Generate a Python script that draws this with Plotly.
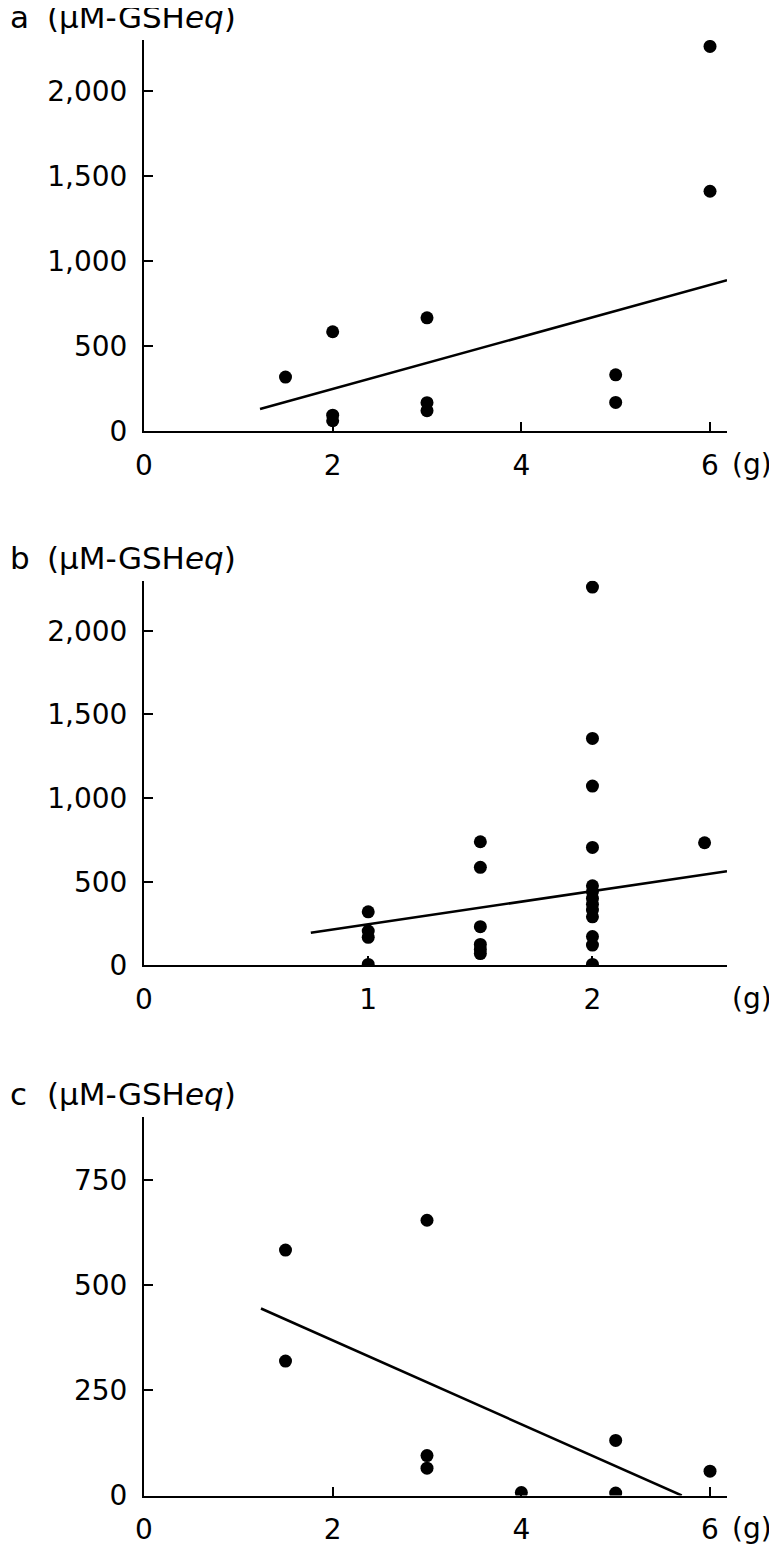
import plotly.graph_objects as go

# Panel a
a_x = [1.5, 2, 2, 2, 3, 3, 3, 5, 5, 6, 6]
a_y = [319, 585, 95, 62, 667, 168, 121, 332, 170, 2262, 1411]
a_fit_x = [1.23, 6.18]
a_fit_y = [131, 888]

# Panel b
b_x = [1, 1, 1, 1,
       1.5, 1.5, 1.5, 1.5, 1.5, 1.5,
       2, 2, 2, 2, 2, 2, 2, 2, 2, 2, 2, 2, 2,
       2.5]
b_y = [320, 205, 167, 5,
       739, 586, 231, 125, 95, 70,
       2262, 1357, 1072, 705, 475, 440, 400, 365, 330, 290, 172, 121, 5,
       733]
b_fit_x = [0.744, 2.6]
b_fit_y = [195, 562]

# Panel c
c_x = [1.5, 1.5, 3, 3, 3, 4, 5, 5, 6]
c_y = [584, 320, 655, 95, 65, 7, 131, 6, 58]
c_fit_x = [1.24, 5.70]
c_fit_y = [445, 0]

a_yticks = [0, 500, 1000, 1500, 2000]
b_yticks = [0, 500, 1000, 1500, 2000]
c_yticks = [0, 250, 500, 750]
a_xticks = [0, 2, 4, 6]
b_xticks = [0, 1, 2]
c_xticks = [0, 2, 4, 6]

panel_letters = ["a", "b", "c"]
y_title = "(μM-GSH<i>eq</i>)"
x_unit = "(g)"

FONT = "DejaVu Sans"
FS = 28
TFS = 31
OFF = 8            # page body margin
W, H = 777 - OFF, 1544 - OFF
L = 144 - OFF
R = W - (727 - OFF)

fig = go.Figure()

panels = [
    (a_x, a_y, a_fit_x, a_fit_y, "x", "y"),
    (b_x, b_y, b_fit_x, b_fit_y, "x2", "y2"),
    (c_x, c_y, c_fit_x, c_fit_y, "x3", "y3"),
]
for px, py, fx, fy, xa, ya in panels:
    fig.add_trace(go.Scatter(x=px, y=py, mode="markers", xaxis=xa, yaxis=ya,
                             marker=dict(size=13, color="black"), showlegend=False))
    fig.add_trace(go.Scatter(x=fx, y=fy, mode="lines", xaxis=xa, yaxis=ya,
                             line=dict(color="black", width=2.5), showlegend=False))

def dom(top_px, bot_px):
    return [1 - (bot_px - OFF) / H, 1 - (top_px - OFF) / H]

common_x = dict(showline=True, linecolor="black", linewidth=2, showgrid=False, zeroline=False,
                ticks="inside", ticklen=9, tickwidth=1.5, tickcolor="black",
                tickfont=dict(family=FONT, size=FS, color="black"), ticklabelstandoff=8)
common_y = dict(showline=True, linecolor="black", linewidth=2, showgrid=False, zeroline=False,
                ticks="inside", ticklen=9, tickwidth=1.5, tickcolor="black",
                tickfont=dict(family=FONT, size=FS, color="black"), ticklabelstandoff=9,
                tickformat=",")

fig.update_layout(
    width=W, height=H, margin=dict(l=L, r=R, t=0, b=0, autoexpand=False),
    plot_bgcolor="white", paper_bgcolor="white",
    font=dict(family=FONT, size=FS, color="black"),
    xaxis=dict(common_x, domain=[0, 1], range=[0, 6.18], tickvals=a_xticks, anchor="y"),
    yaxis=dict(common_y, domain=dom(40, 431.3), range=[0, 2300], tickvals=a_yticks, anchor="x"),
    xaxis2=dict(common_x, domain=[0, 1], range=[0, 2.6], tickvals=b_xticks, anchor="y2"),
    yaxis2=dict(common_y, domain=dom(580.7, 965.3), range=[0, 2300], tickvals=b_yticks, anchor="x2"),
    xaxis3=dict(common_x, domain=[0, 1], range=[0, 6.18], tickvals=c_xticks, anchor="y3"),
    yaxis3=dict(common_y, domain=dom(1117.3, 1495.5), range=[0, 900], tickvals=c_yticks, anchor="x3"),
)

ann = []
for letter, xa, ya in zip(panel_letters, ["x", "x2", "x3"], ["y", "y2", "y3"]):
    ann.append(dict(text=letter, xref="paper", x=(0 - L) / (W - L - R), xanchor="left",
                    yref=f"{ya} domain", y=1, yanchor="middle", yshift=23,
                    showarrow=False, font=dict(family=FONT, size=TFS, color="black")))
    ann.append(dict(text=y_title, xref="paper", x=(45 - OFF - L) / (W - L - R), xanchor="left",
                    yref=f"{ya} domain", y=1, yanchor="middle", yshift=23,
                    showarrow=False, font=dict(family=FONT, size=TFS, color="black")))
    ann.append(dict(text=x_unit, xref=f"{xa} domain", x=1, xanchor="left", xshift=3,
                    yref=f"{ya} domain", y=0, yanchor="middle", yshift=-33,
                    showarrow=False, font=dict(family=FONT, size=FS, color="black")))
fig.update_layout(annotations=ann)

fig.write_html("out.html")
